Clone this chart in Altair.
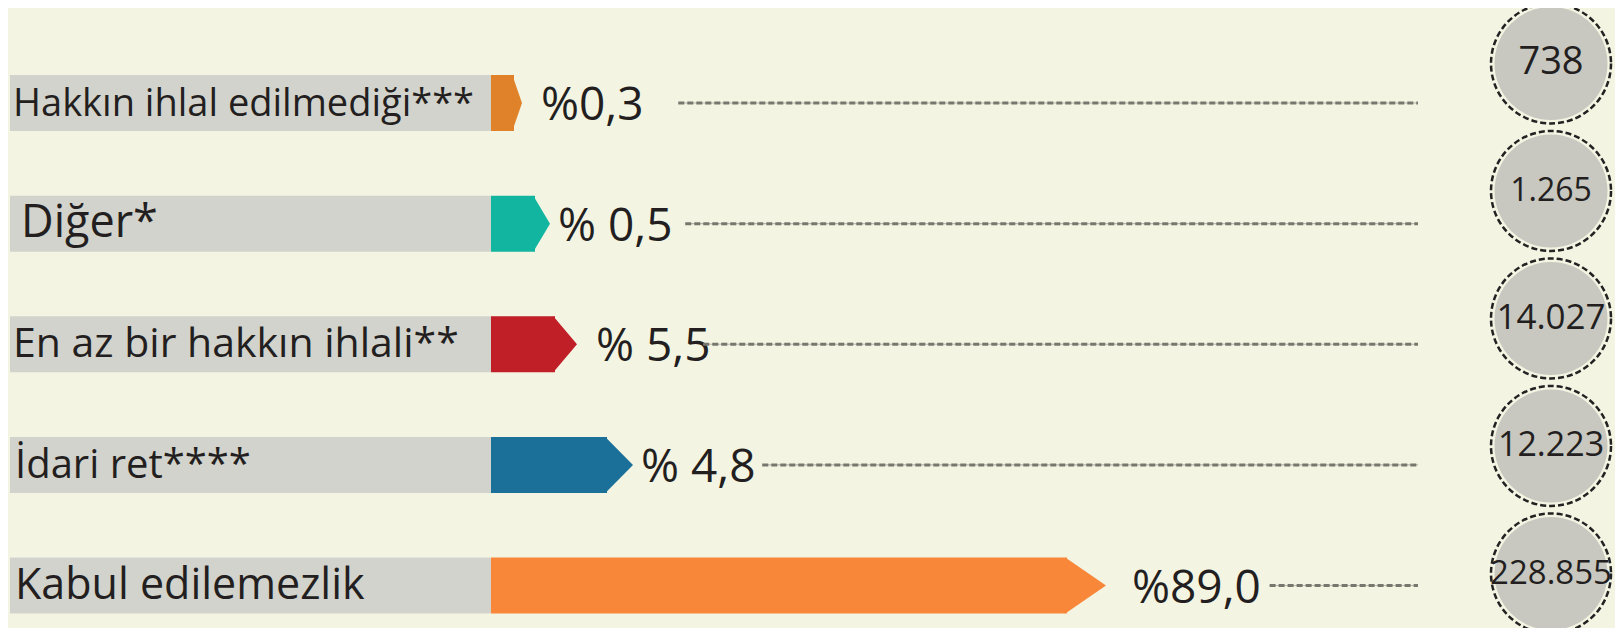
import altair as alt
import pandas as pd

# ---------------- data ----------------
categories = ["Hakkın ihlal edilmediği***", "Diğer*", "En az bir hakkın ihlali**",
              "İdari ret****", "Kabul edilemezlik"]
pct_text = ["%0,3", "% 0,5", "% 5,5", "% 4,8", "%89,0"]
counts = [738, 1265, 14027, 12223, 228855]
# drawn arrow lengths (infographic is not to scale), in chart px units
arrow_length = [31, 59, 86, 142, 615]

# ---------------- styles / layout ----------------
colors = ["#e0822a", "#12b5a0", "#c11f27", "#1b7099", "#f8873a"]
tip_depth = [8, 15, 22, 26, 39]
count_fs = [38, 32, 35, 34, 33]
label_fs = [38, 45, 41, 40, 43]
label_dx = [0, 8, 0, 2, 2]
pct_dx = [19, 8, 19, 8, 26]
dash_gap = [35, 13, -7, 7, 9]
BG = "#f4f4e3"
BOX = "#d3d3cd"
CIRC = "#c8c8c1"
INK = "#231f20"
FONT = "Open Sans"

W, H = 1607, 620           # plot area (page offset 8px)
OFF = 8
BOX_X0, BOX_X1 = 10 - OFF, 491 - OFF
LABEL_X = 13 - OFF
ROW0, ROW4 = 103 - OFF, 585.5 - OFF
ROW_STEP = (ROW4 - ROW0) / 4
BAR_H = 56
HALF = (BAR_H / 2) / ROW_STEP
C0, C4 = 63.5 - OFF, 573.5 - OFF
C_STEP = (C4 - C0) / 4
CX = 1551 - OFF
DASH_END = 1418 - OFF
PCT_FS = 46

row_dom = [-ROW0 / ROW_STEP, 4 + (H - ROW4) / ROW_STEP]
circ_dom = [-C0 / C_STEP, 4 + (H - C4) / C_STEP]

xs = alt.Scale(domain=[0, W], nice=False, zero=False)
ys = alt.Scale(domain=row_dom, reverse=True, nice=False, zero=False)
cs = alt.Scale(domain=circ_dom, reverse=True, nice=False, zero=False)


def text_w(s, fs):
    w = 0
    for ch in s:
        if ch == "%":
            w += 0.83
        elif ch.isdigit():
            w += 0.572
        elif ch == ",":
            w += 0.25
        elif ch == " ":
            w += 0.26
    return w * fs


rows = []
for i, c in enumerate(categories):
    tip = BOX_X1 + arrow_length[i]
    ptx = tip + pct_dx[i]
    rows.append(dict(
        idx=i, cat=c, pct=pct_text[i],
        top=i - HALF, bot=i + HALF,
        bx0=BOX_X0, bx1=BOX_X1, lx=LABEL_X + label_dx[i], lfs=label_fs[i],
        tip=tip, ptx=ptx,
        body_end=tip - tip_depth[i],
        dash0=ptx + text_w(pct_text[i], PCT_FS) + dash_gap[i], dash1=DASH_END,
        cnt=f"{counts[i]:,}".replace(",", "."), cx=CX, cfs=count_fs[i],
    ))
df = pd.DataFrame(rows)

color_scale = alt.Scale(domain=list(range(5)), range=colors)
tip_paths = [f"M-0.06,-1L{d / (BAR_H / 2):.4f},0L-0.06,1Z" for d in tip_depth]
shape_scale = alt.Scale(domain=list(range(5)), range=tip_paths)

base = alt.Chart(df)
X = lambda f: alt.X(f, scale=xs, axis=None)
Y = lambda f: alt.Y(f, scale=ys, axis=None)
YC = lambda f: alt.Y(f, scale=cs, axis=None)

box = base.mark_rect(color=BOX).encode(x=X("bx0:Q"), x2="bx1:Q", y=Y("top:Q"), y2="bot:Q")

body = base.mark_rect().encode(
    x=X("bx1:Q"), x2="body_end:Q", y=Y("top:Q"), y2="bot:Q",
    color=alt.Color("idx:O", scale=color_scale, legend=None))

tip = base.mark_point(filled=True, opacity=1, size=BAR_H ** 2, strokeWidth=0).encode(
    x=X("body_end:Q"), y=Y("idx:Q"),
    shape=alt.Shape("idx:O", scale=shape_scale, legend=None),
    color=alt.Color("idx:O", scale=color_scale, legend=None))

label = base.mark_text(align="left", baseline="alphabetic", dy=13, font=FONT,
                       color=INK).encode(
    x=X("lx:Q"), y=Y("idx:Q"), text="cat:N",
    size=alt.Size("lfs:Q", scale=None, legend=None))

pct = base.mark_text(align="left", baseline="alphabetic", dy=17, font=FONT,
                     fontSize=PCT_FS, color=INK).encode(
    x=X("ptx:Q"), y=Y("idx:Q"), text="pct:N")

dash_bg = base.mark_rule(color="#b9b9ae", strokeWidth=1.2).encode(
    x=X("dash0:Q"), x2="dash1:Q", y=Y("idx:Q"))

dash = base.mark_rule(color="#77776e", strokeWidth=3, strokeDash=[6, 3]).encode(
    x=X("dash0:Q"), x2="dash1:Q", y=Y("idx:Q"))

circ = base.mark_point(shape="circle", filled=True, color=CIRC, opacity=1,
                       size=113 ** 2).encode(x=X("cx:Q"), y=YC("idx:Q"))

ring = base.mark_point(shape="circle", filled=False, color="#222222", opacity=1,
                       strokeWidth=2.5, strokeDash=[6, 3], size=120 ** 2).encode(
    x=X("cx:Q"), y=YC("idx:Q"))

cnt = base.mark_text(align="center", baseline="alphabetic", dy=10, font=FONT,
                     color=INK).encode(
    x=X("cx:Q"), y=YC("idx:Q"), text="cnt:N",
    size=alt.Size("cfs:Q", scale=None, legend=None))

chart = alt.layer(box, body, tip, label, pct, dash_bg, dash, circ, ring, cnt).resolve_scale(
    y="independent", color="independent", shape="independent", size="independent"
).properties(
    width=W, height=H, padding=0,
    autosize=alt.AutoSizeParams(type="none"),
    background=BG,
).configure_view(stroke=None)

chart.save("out.html", embed_options={"renderer": "svg", "actions": False})
